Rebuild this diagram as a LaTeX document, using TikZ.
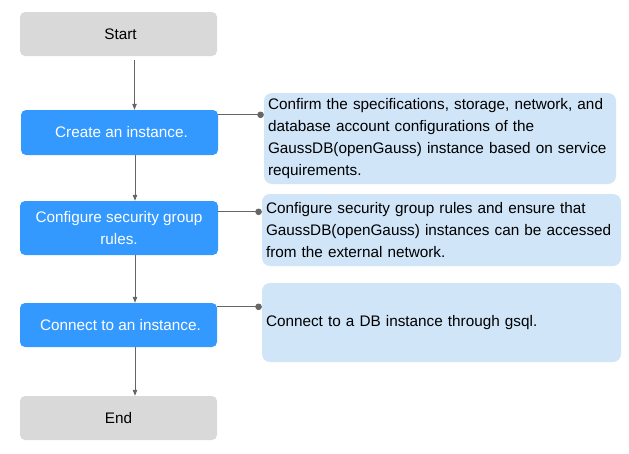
\documentclass[tikz,border=0pt]{standalone}
\usepackage{fontspec}
\setmainfont{Liberation Sans}
\usetikzlibrary{arrows.meta}
\definecolor{stepblue}{RGB}{51,153,255}
\definecolor{stepgrey}{RGB}{217,217,217}
\definecolor{descblue}{RGB}{208,229,248}
\definecolor{linegrey}{RGB}{102,102,102}
\begin{document}
\begin{tikzpicture}[x=1pt,y=-1pt,
  every node/.style={font=\fontsize{15.3}{21.7}\selectfont},
  stepbox/.style={rectangle,rounded corners=5pt,minimum width=197pt,inner sep=2pt,align=center},
  termbox/.style={stepbox,fill=stepgrey,text=black},
  actbox/.style={stepbox,fill=stepblue,text=white},
  descbox/.style={rectangle,rounded corners=8pt,fill=descblue,align=left,inner xsep=4pt,text=black},
  flow/.style={draw=linegrey,line width=0.8pt,-{Triangle[length=6pt,width=4.5pt]}},
  link/.style={draw=linegrey,line width=0.8pt,-{Circle[length=6.5pt]}}]
\useasboundingbox (0,0) rectangle (629,453);
\node[termbox,minimum height=44pt] (start) at (118.5,34) {\hspace*{4pt}Start};
\node[actbox,minimum height=45pt] (create) at (119.5,132.5) {\hspace*{4pt}Create an instance.};
\node[actbox,minimum height=54pt,minimum width=198pt] (config) at (119,228) {Configure security group\\rules.};
\node[actbox,minimum height=44pt] (connect) at (118.5,325) {\hspace*{4pt}Connect to an instance.};
\node[termbox,minimum height=44pt] (end) at (118.5,418) {End};

\node[descbox,minimum width=352pt,minimum height=91pt,text width=344pt] (d1) at (440,138.5)
  {Confirm the specifications, storage, network, and\\database account configurations of the\\GaussDB(openGauss) instance based on service\\requirements.};
\node[descbox,minimum width=359pt,minimum height=72pt,text width=351pt] (d2) at (441.5,230)
  {Configure security group rules and ensure that\\GaussDB(openGauss) instances can be accessed\\from the external network.};
\node[descbox,minimum width=359pt,minimum height=79pt,text width=351pt] (d3) at (441.5,322.5)
  {Connect to a DB instance through gsql.};

\draw[flow,shorten <=4pt] ([xshift=16pt]start.south) -- ([xshift=16pt]start.south |- create.north);
\draw[flow] ([xshift=15.5pt]create.south) -- ([xshift=15.5pt]create.south |- config.north);
\draw[flow] ([xshift=16pt]config.south) -- ([xshift=16pt]config.south |- connect.north);
\draw[flow] ([xshift=16.5pt]connect.south) -- ([xshift=16.5pt]connect.south |- end.north);

\draw[link] ([yshift=-5pt]create.north east) -- ([yshift=-5pt]create.north east -| d1.west);
\draw[link] ([yshift=-11pt]config.north east) -- ([yshift=-11pt]config.north east -| d2.west);
\draw[link] ([yshift=-4pt]connect.north east) -- ([yshift=-4pt]connect.north east -| d3.west);
\end{tikzpicture}
\end{document}
